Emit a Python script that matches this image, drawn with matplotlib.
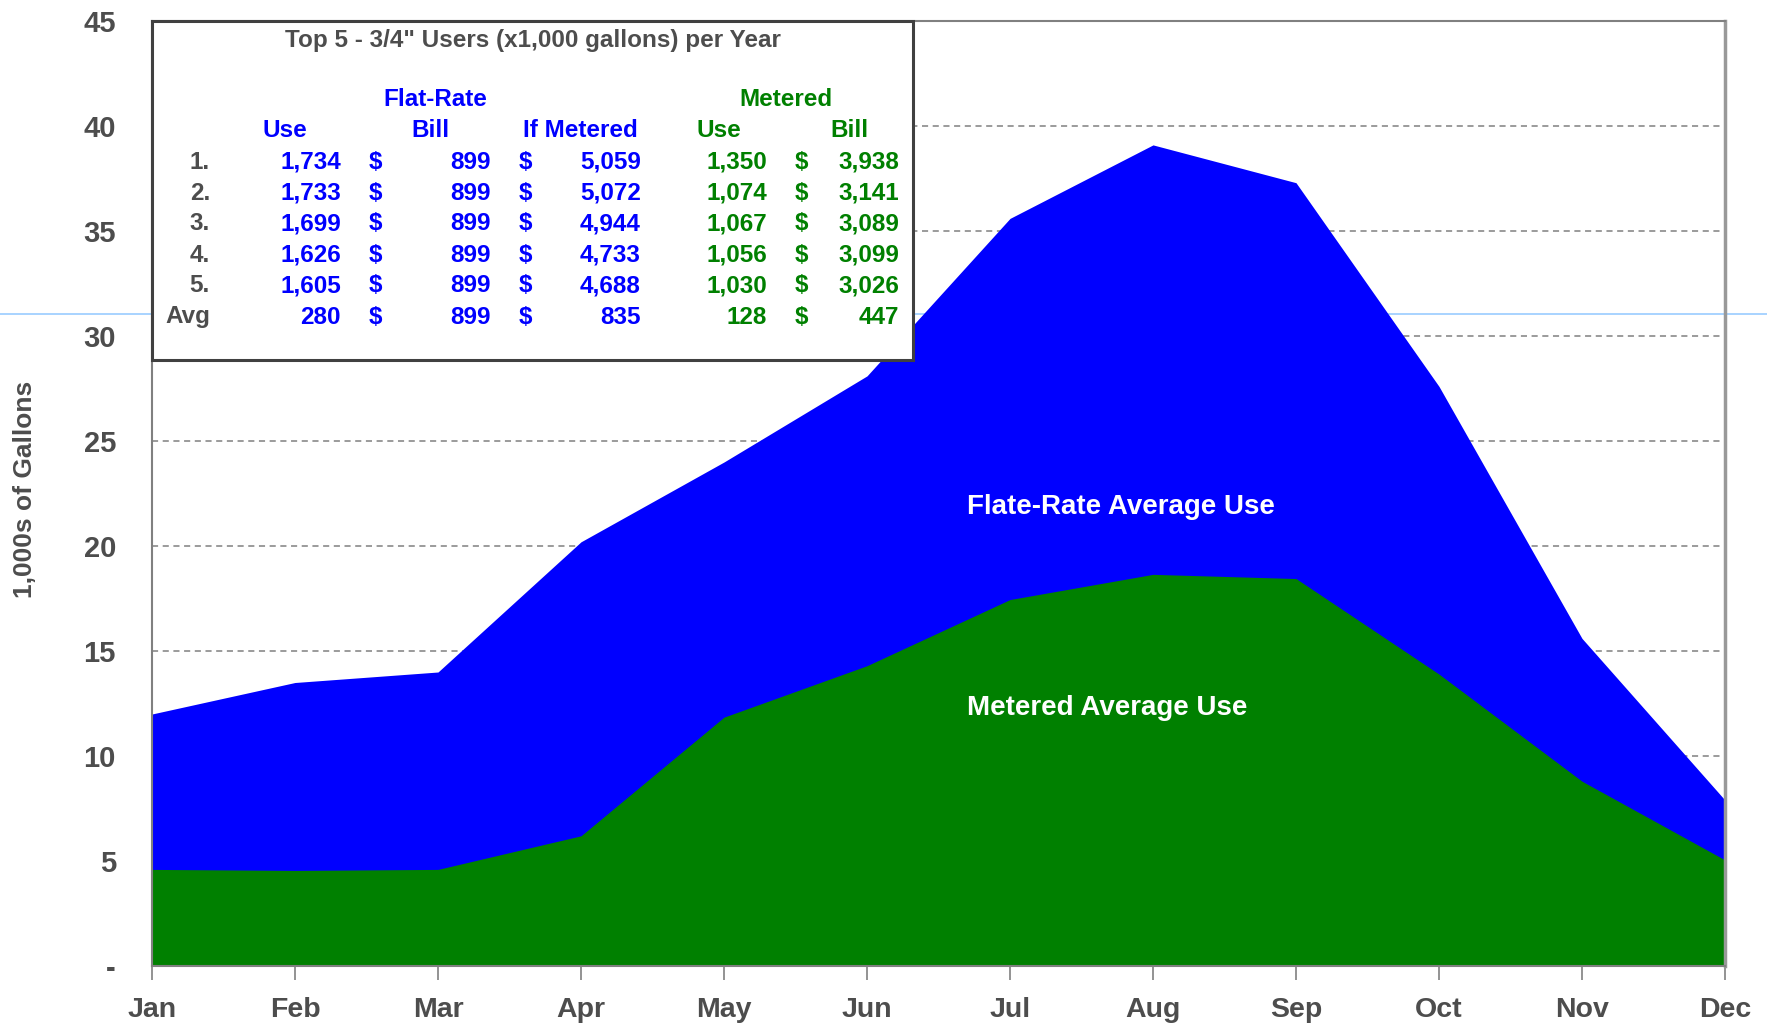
import matplotlib
matplotlib.use('Agg')
import matplotlib.pyplot as plt
from matplotlib.patches import Rectangle
from matplotlib.lines import Line2D

months = ['Jan', 'Feb', 'Mar', 'Apr', 'May', 'Jun', 'Jul', 'Aug', 'Sep', 'Oct', 'Nov', 'Dec']
flat_rate = [12.0, 13.5, 14.0, 20.2, 24.0, 28.1, 35.6, 39.1, 37.3, 27.6, 15.6, 7.9]
metered = [4.6, 4.55, 4.6, 6.2, 11.85, 14.3, 17.45, 18.65, 18.45, 13.9, 8.8, 5.05]

y_ticks = [0, 5, 10, 15, 20, 25, 30, 35, 40, 45]
y_tick_labels = ['-', '5', '10', '15', '20', '25', '30', '35', '40', '45']

# table in the top left corner
row_labels = ['1.', '2.', '3.', '4.', '5.', 'Avg']
flat_use = ['1,734', '1,733', '1,699', '1,626', '1,605', '280']
flat_bill = ['899', '899', '899', '899', '899', '899']
if_metered = ['5,059', '5,072', '4,944', '4,733', '4,688', '835']
met_use = ['1,350', '1,074', '1,067', '1,056', '1,030', '128']
met_bill = ['3,938', '3,141', '3,089', '3,099', '3,026', '447']

BLUE = '#0000ff'
GREEN = '#008000'
GRAY = '#4d4d4d'
W, H = 1767, 1023

plt.rcParams['font.family'] = ['Liberation Sans', 'DejaVu Sans']
plt.rcParams['font.weight'] = 'bold'

fig = plt.figure(figsize=(W / 100, H / 100), dpi=100)
ax = fig.add_axes([152 / W, 1 - 966 / H, (1725 - 152) / W, (966 - 21) / H])
ax.patch.set_alpha(0)


def fx(px):
    return px / W


def fy(py):
    return 1 - py / H


# thin light blue line running across the whole figure, behind the areas
fig.add_artist(Line2D([0, 1], [fy(314), fy(314)], color='#99ccff', lw=1.2, zorder=0))

x = list(range(len(months)))
ax.fill_between(x, 0, flat_rate, color=BLUE, lw=0, zorder=2)
ax.fill_between(x, 0, metered, color=GREEN, lw=0, zorder=3)

ax.set_xlim(0, 11)
ax.set_ylim(0, 45)
ax.set_yticks(y_ticks)
ax.set_yticklabels(y_tick_labels)
ax.set_xticks(x)
ax.set_xticklabels(months)
for y in y_ticks[1:-1]:
    ax.axhline(y, color='#808080', lw=1.1, ls=(0, (4, 3)), zorder=1)

ax.tick_params(axis='y', length=0, pad=26, labelsize=21, labelcolor=GRAY)
ax.tick_params(axis='x', length=10, width=1.2, color='#808080', pad=12, labelsize=20.5, labelcolor=GRAY)
for s in ['left', 'bottom', 'top']:
    ax.spines[s].set_color('#808080')
    ax.spines[s].set_linewidth(1.5)
ax.spines['right'].set_color('#999999')
ax.spines['right'].set_linewidth(2.5)
for s in ax.spines.values():
    s.set_zorder(4)

fig.text(fx(25), fy(489), '1,000s of Gallons', color=GRAY, fontsize=19, rotation=90,
         ha='center', va='center')

ax.text(5.7, 21.85, 'Flate-Rate Average Use', color='white', fontsize=20, va='center', zorder=5)
ax.text(5.7, 12.3, 'Metered Average Use', color='white', fontsize=20, va='center', zorder=5)

# table box
fig.add_artist(Rectangle((fx(152), fy(360)), fx(913) - fx(152), fy(21) - fy(360),
                         facecolor='white', edgecolor='#404040', lw=2.2, zorder=6))

fs = 17.5
fig.text(fx(533), fy(40), 'Top 5 - 3/4" Users (x1,000 gallons) per Year', color=GRAY,
         fontsize=fs, ha='center', va='center', zorder=7)
fig.text(fx(435), fy(100), 'Flat-Rate', color=BLUE, fontsize=fs, ha='center', va='center', zorder=7)
fig.text(fx(786), fy(100), 'Metered', color=GREEN, fontsize=fs, ha='center', va='center', zorder=7)
headers = [('Use', 285, BLUE), ('Bill', 430, BLUE), ('If Metered', 580, BLUE),
           ('Use', 719, GREEN), ('Bill', 849, GREEN)]
for txt, px, c in headers:
    fig.text(fx(px), fy(130.5), txt, color=c, fontsize=fs, ha='center', va='center', zorder=7)

row_y = [162.5, 193, 224, 255, 286, 317]
for i, py in enumerate(row_y):
    y = fy(py)
    fig.text(fx(210), y, row_labels[i], color=GRAY, fontsize=fs, ha='right', va='center', zorder=7)
    fig.text(fx(341), y, flat_use[i], color=BLUE, fontsize=fs, ha='right', va='center', zorder=7)
    fig.text(fx(375), y, '$', color=BLUE, fontsize=fs, ha='center', va='center', zorder=7)
    fig.text(fx(491), y, flat_bill[i], color=BLUE, fontsize=fs, ha='right', va='center', zorder=7)
    fig.text(fx(525), y, '$', color=BLUE, fontsize=fs, ha='center', va='center', zorder=7)
    fig.text(fx(641), y, if_metered[i], color=BLUE, fontsize=fs, ha='right', va='center', zorder=7)
    fig.text(fx(767), y, met_use[i], color=GREEN, fontsize=fs, ha='right', va='center', zorder=7)
    fig.text(fx(801), y, '$', color=GREEN, fontsize=fs, ha='center', va='center', zorder=7)
    fig.text(fx(899), y, met_bill[i], color=GREEN, fontsize=fs, ha='right', va='center', zorder=7)

fig.savefig('out.png', dpi=100)
